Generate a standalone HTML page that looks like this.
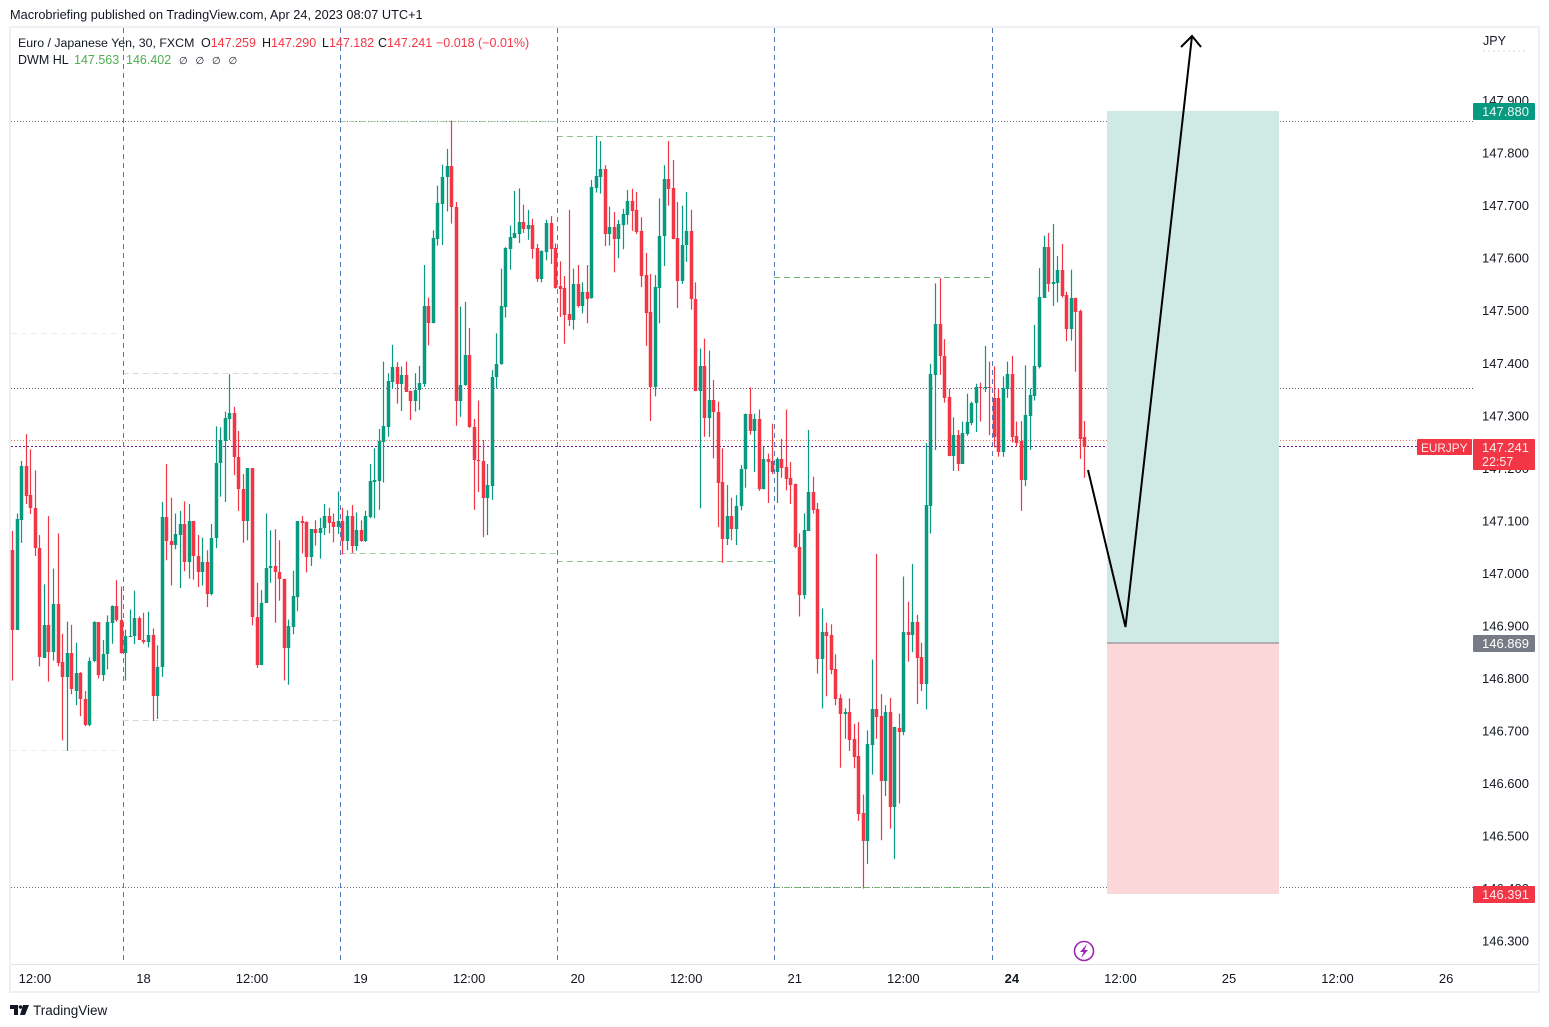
<!DOCTYPE html>
<html lang="en">
<head>
<meta charset="utf-8">
<title>EURJPY 30 chart</title>
<style>
html,body{margin:0;padding:0;background:#fff;width:1549px;height:1027px;overflow:hidden}
svg{display:block;font-family:"Liberation Sans",sans-serif}
text{font-size:12.5px;fill:#131722}
</style>
</head>
<body>
<svg id="chart" width="1549" height="1027" viewBox="0 0 1549 1027" xmlns="http://www.w3.org/2000/svg">
  <rect x="0" y="0" width="1549" height="1027" fill="#ffffff"/>
  <text x="10" y="19" style="font-size:12.75px">Macrobriefing published on TradingView.com, Apr 24, 2023 08:07 UTC+1</text>
  <rect x="10" y="27" width="1529" height="965" fill="none" stroke="#eff0f3" stroke-width="2"/>
  <line x1="11" y1="964.5" x2="1538" y2="964.5" stroke="#e0e3eb" stroke-width="1"/>

  <g id="levels"></g>
  <g id="sessions"></g>
  <g id="candles"></g>
  <g id="verticals"></g>

  <rect x="1107" y="111" width="172" height="532" fill="#cfeae5"/>
  <rect x="1107" y="643" width="172" height="251" fill="#fcd7da"/>
  <line x1="1107" y1="643" x2="1279" y2="643" stroke="#787b86" stroke-width="1"/>
  <polyline points="1088,470 1125.5,627 1192,36" fill="none" stroke="#000000" stroke-width="2"/>
  <polyline points="1181,47 1192,36 1201,47" fill="none" stroke="#000000" stroke-width="2"/>

  <g id="legend">
    <text x="18" y="47" style="font-size:12.35px">Euro / Japanese Yen, 30, FXCM</text>
    <text x="201" y="47">O<tspan fill="#f23645">147.259</tspan></text>
    <text x="262" y="47">H<tspan fill="#f23645">147.290</tspan></text>
    <text x="322" y="47">L<tspan fill="#f23645">147.182</tspan></text>
    <text x="378" y="47">C<tspan fill="#f23645">147.241</tspan></text>
    <text x="436" y="47" style="fill:#f23645">−0.018 (−0.01%)</text>
    <text x="18" y="64">DWM HL</text>
    <text x="74" y="64" style="fill:#4caf50">147.563</text>
    <text x="126" y="64" style="fill:#4caf50">146.402</text>
    <text x="179" y="64" style="font-size:10px;word-spacing:5px">∅ ∅ ∅ ∅</text>
  </g>

  <g id="price-axis">
    <text x="1483" y="45" style="font-size:12.5px">JPY</text>
    <line x1="1483" y1="51" x2="1528" y2="51" stroke="#d8dbe3" stroke-width="1" stroke-dasharray="2 3"/>
  </g>
  <g id="time-axis"></g>

  <g>
    <rect x="1473" y="103" width="62" height="17" rx="1" fill="#089981"/>
    <text x="1529" y="116" text-anchor="end" style="fill:#e8f6f3;font-size:13px">147.880</text>
    <rect x="1417" y="439" width="55" height="16" rx="1" fill="#f23645"/>
    <text x="1421" y="452" style="fill:#fde8ea;font-size:11.8px">EURJPY</text>
    <rect x="1473" y="439" width="62" height="31" rx="1" fill="#f23645"/>
    <text x="1529" y="452" text-anchor="end" style="fill:#fde8ea;font-size:13px">147.241</text>
    <text x="1482" y="466" style="fill:#fde8ea;font-size:12.5px">22:57</text>
    <rect x="1473" y="635" width="62" height="17" rx="1" fill="#787b86"/>
    <text x="1529" y="648" text-anchor="end" style="fill:#ffffff;font-size:13px">146.869</text>
    <rect x="1473" y="886" width="62" height="17" rx="1" fill="#f23645"/>
    <text x="1529" y="899" text-anchor="end" style="fill:#fde8ea;font-size:13px">146.391</text>
  </g>

  <g>
    <circle cx="1084" cy="951" r="9.5" fill="#ffffff" stroke="#9c27b0" stroke-width="1.6"/>
    <path d="M1087 944 L1080 952 L1083.5 952 L1081 958 L1088 950 L1084.5 950 Z" fill="#9c27b0"/>
  </g>

  <g>
    <path d="M10 1005 H18 V1015 H14 V1009 H10 Z M23 1005 H29 L25 1015 H20 Z" fill="#131722"/>
    <circle cx="20.5" cy="1007" r="1.8" fill="#131722"/>
    <text x="33" y="1015" style="font-size:13.5px">TradingView</text>
  </g>
</svg>

<script>
const opens = [
147.044,146.893,147.102,147.204,147.149,147.125,147.049,146.839,146.901,146.850,
146.941,146.831,146.803,146.849,146.777,146.810,146.760,146.711,146.833,146.907,
146.806,146.847,146.906,146.937,146.912,146.849,146.880,146.881,146.915,146.874,
146.869,146.883,146.767,146.821,147.107,147.062,147.054,147.073,147.094,147.022,
147.099,147.033,147.003,147.021,146.960,147.068,147.211,147.252,147.294,147.306,
147.222,147.160,147.100,147.200,146.917,146.825,146.944,147.010,147.014,147.002,
146.990,146.858,146.898,146.955,147.099,147.097,147.031,147.084,147.076,147.087,
147.109,147.097,147.088,147.099,147.062,147.109,147.053,147.082,147.061,147.108,
147.174,147.176,147.251,147.279,147.365,147.393,147.361,147.378,147.347,147.329,
147.350,147.361,147.509,147.477,147.637,147.704,147.754,147.776,147.698,147.329,
147.358,147.416,147.278,147.216,147.214,147.144,147.167,147.373,147.398,147.508,
147.618,147.639,147.647,147.668,147.656,147.663,147.619,147.560,147.612,147.667,
147.620,147.547,147.544,147.493,147.482,147.551,147.509,147.535,147.525,147.734,
147.755,147.770,147.646,147.659,147.637,147.663,147.682,147.709,147.692,147.652,
147.568,147.497,147.355,147.544,147.642,147.750,147.734,147.638,147.557,147.625,
147.652,147.523,147.347,147.394,147.296,147.330,147.308,147.174,147.066,147.109,
147.085,147.129,147.198,147.304,147.271,147.293,147.161,147.217,147.213,147.193,
147.217,147.202,147.181,147.170,147.051,146.959,147.081,147.155,147.122,146.837,
146.888,146.882,146.817,146.762,146.733,146.736,146.684,146.652,146.543,146.490,
146.673,146.741,146.728,146.605,146.737,146.555,146.706,146.698,146.888,146.883,
146.907,146.841,146.789,147.128,147.378,147.475,147.414,147.336,147.223,147.263,
147.208,147.265,147.287,147.324,147.354,147.352,147.354,147.334,147.334,147.232,
147.351,147.380,147.262,147.252,147.178,147.300,147.338,147.392,147.524,147.622,
147.550,147.552,147.578,147.530,147.466,147.524,147.500,147.259];
const highs = [
147.081,147.114,147.214,147.265,147.236,147.196,147.073,146.979,147.109,147.009,
147.076,146.885,146.908,146.902,146.868,146.812,146.776,146.840,146.909,146.907,
146.873,146.920,146.939,146.987,146.975,146.893,146.931,146.967,146.918,146.925,
146.927,146.895,146.863,147.136,147.208,147.144,147.114,147.119,147.137,147.132,
147.100,147.073,147.068,147.044,147.094,147.280,147.278,147.308,147.379,147.317,
147.271,147.189,147.200,147.200,146.982,146.968,147.114,147.082,147.084,147.063,
146.990,146.912,147.005,147.099,147.109,147.099,147.084,147.101,147.106,147.132,
147.125,147.114,147.156,147.125,147.120,147.130,147.116,147.101,147.119,147.208,
147.238,147.275,147.403,147.381,147.435,147.402,147.394,147.403,147.348,147.381,
147.395,147.587,147.525,147.653,147.738,147.778,147.808,147.862,147.707,147.508,
147.517,147.467,147.294,147.329,147.254,147.208,147.387,147.457,147.580,147.621,
147.662,147.728,147.733,147.702,147.692,147.675,147.627,147.615,147.673,147.680,
147.628,147.594,147.566,147.692,147.580,147.587,147.554,147.587,147.749,147.833,
147.823,147.777,147.698,147.688,147.673,147.694,147.730,147.732,147.726,147.678,
147.610,147.570,147.568,147.714,147.777,147.823,147.787,147.707,147.700,147.726,
147.692,147.554,147.428,147.447,147.424,147.368,147.327,147.238,147.168,147.144,
147.149,147.206,147.304,147.354,147.304,147.312,147.241,147.228,147.285,147.221,
147.256,147.312,147.212,147.171,147.076,147.114,147.273,147.184,147.134,146.933,
146.906,146.903,146.846,146.770,146.743,146.762,146.713,146.717,146.579,146.701,
146.836,147.037,146.770,146.749,146.763,146.708,146.733,146.994,146.946,147.018,
146.921,146.868,147.248,147.399,147.552,147.562,147.446,147.352,147.297,147.273,
147.289,147.342,147.327,147.361,147.363,147.433,147.403,147.394,147.352,147.375,
147.403,147.414,147.289,147.290,147.396,147.352,147.473,147.581,147.643,147.648,
147.665,147.604,147.627,147.536,147.578,147.525,147.502,147.290];
const lows = [
146.796,146.893,147.058,147.132,147.113,147.033,146.823,146.839,146.794,146.834,
146.823,146.682,146.662,146.770,146.749,146.728,146.709,146.709,146.831,146.800,
146.795,146.817,146.866,146.908,146.847,146.796,146.879,146.865,146.873,146.866,
146.859,146.719,146.723,146.803,147.025,146.977,147.046,146.972,147.004,146.990,
146.988,146.974,146.977,146.936,146.958,147.048,147.146,147.136,147.254,147.187,
147.119,147.058,147.063,146.901,146.820,146.825,146.944,146.982,146.906,146.948,
146.796,146.788,146.884,146.928,147.038,147.002,147.014,147.053,147.028,147.073,
147.076,147.059,147.075,147.036,147.044,147.039,147.043,147.060,147.060,147.105,
147.105,147.121,147.173,147.260,147.352,147.323,147.309,147.345,147.292,147.308,
147.311,147.355,147.434,147.476,147.624,147.625,147.689,147.666,147.281,147.298,
147.357,147.277,147.121,147.155,147.069,147.073,147.140,147.352,147.397,147.487,
147.578,147.638,147.629,147.648,147.635,147.599,147.555,147.554,147.596,147.589,
147.542,147.488,147.437,147.471,147.464,147.506,147.495,147.476,147.523,147.725,
147.723,147.623,147.624,147.573,147.600,147.617,147.664,147.652,147.646,147.545,
147.433,147.290,147.337,147.476,147.585,147.700,147.636,147.505,147.551,147.593,
147.502,147.347,147.124,147.260,147.260,147.219,147.088,147.020,147.054,147.063,
147.054,147.120,147.163,147.264,147.193,147.157,147.160,147.134,147.189,147.134,
147.182,147.158,147.132,147.048,146.918,146.951,147.081,147.114,146.809,146.743,
146.766,146.808,146.749,146.630,146.685,146.662,146.629,146.529,146.400,146.447,
146.617,146.685,146.492,146.576,146.514,146.456,146.562,146.692,146.832,146.850,
146.751,146.776,146.741,147.076,147.235,147.378,147.325,147.223,147.195,147.195,
147.208,147.262,147.282,147.269,147.289,147.345,147.263,147.240,147.222,147.222,
147.334,147.249,147.241,147.119,147.166,147.235,147.329,147.390,147.524,147.536,
147.509,147.516,147.525,147.442,147.443,147.384,147.218,147.182];
const closes = [
146.893,147.103,147.204,147.148,147.125,147.048,146.840,146.901,146.850,146.941,
146.829,146.803,146.849,146.779,146.810,146.760,146.711,146.834,146.907,146.806,
146.847,146.907,146.937,146.911,146.849,146.881,146.881,146.915,146.874,146.869,
146.883,146.767,146.821,147.107,147.062,147.054,147.075,147.094,147.022,147.099,
147.033,147.003,147.021,146.960,147.068,147.211,147.254,147.295,147.306,147.222,
147.160,147.100,147.200,146.917,146.825,146.944,147.011,147.014,147.002,146.990,
146.858,146.899,146.956,147.099,147.096,147.031,147.084,147.076,147.087,147.109,
147.096,147.088,147.099,147.062,147.109,147.053,147.082,147.061,147.109,147.176,
147.178,147.252,147.281,147.366,147.393,147.361,147.378,147.346,147.329,147.350,
147.362,147.509,147.477,147.638,147.705,147.755,147.776,147.698,147.329,147.358,
147.416,147.278,147.215,147.213,147.144,147.168,147.374,147.399,147.509,147.619,
147.641,147.648,147.668,147.656,147.663,147.618,147.561,147.614,147.667,147.617,
147.544,147.541,147.492,147.483,147.551,147.509,147.535,147.523,147.735,147.756,
147.770,147.647,147.659,147.636,147.665,147.684,147.709,147.690,147.649,147.566,
147.496,147.355,147.545,147.643,147.750,147.732,147.636,147.557,147.626,147.652,
147.522,147.347,147.394,147.296,147.330,147.307,147.172,147.066,147.109,147.085,
147.129,147.198,147.304,147.271,147.293,147.160,147.217,147.212,147.193,147.217,
147.200,147.180,147.169,147.050,146.959,147.082,147.155,147.120,146.837,146.888,
146.881,146.816,146.760,146.732,146.736,146.682,146.650,146.542,146.490,146.675,
146.741,146.727,146.605,146.737,146.555,146.708,146.698,146.888,146.882,146.907,
146.839,146.789,147.130,147.380,147.475,147.413,147.333,147.223,147.263,147.208,
147.267,147.288,147.325,147.354,147.352,147.354,147.352,147.260,147.232,147.352,
147.380,147.260,147.249,147.178,147.301,147.340,147.395,147.526,147.622,147.550,
147.554,147.578,147.528,147.466,147.524,147.498,147.256,147.241];

const priceTicks = ["147.900","147.800","147.700","147.600","147.500","147.400","147.300","147.200","147.100","147.000","146.900","146.800","146.700","146.600","146.500","146.400","146.300"];
const timeLabels = ["12:00","18","12:00","19","12:00","20","12:00","21","12:00","24","12:00","25","12:00","26"];
const timeBars = [5,29,53,77,101,125,149,173,197,221,245,269,293,317];
const sessionBounds = [-0.3,24.4,72.4,120.4,168.4,216.6];
const sessionHighs = [147.456,147.381,147.860,147.832,147.563];
const sessionLows = [146.662,146.719,147.037,147.022,146.402];
const levelPrices = [147.860,147.351,147.252,147.241,146.402];

const svgNS = "http://www.w3.org/2000/svg";
const xOf = bar => 12.3 + bar * 4.523;
const yOf = price => 100.6 + (147.9 - price) * 525.3;
const GREEN = "#089981";
const RED = "#f23645";
const levelColors = ["#6b6f7c","#5c5566","#e8705f","#6a1b9a","#6b6f7c"];
const levelDash = ["1 2","1 2","1 2","2 2","1 2"];
const sessionColors = ["#eceeec","#d3dcd3","#a8cca8","#8fc28f","#74b574"];

function make(tag, attrs) {
  const el = document.createElementNS(svgNS, tag);
  for (const k in attrs) el.setAttribute(k, attrs[k]);
  return el;
}

const levelsG = document.getElementById("levels");
levelPrices.forEach((p, i) => {
  const y = Math.floor(yOf(p)) + 0.5;
  const ln = make("line", {x1: 11, x2: i === 2 || i === 3 ? 1417 : 1473, y1: y, y2: y, stroke: levelColors[i], "stroke-width": 1, "stroke-dasharray": levelDash[i]});
  
  
  levelsG.appendChild(ln);
});

const sessionsG = document.getElementById("sessions");
sessionHighs.forEach((p, i) => {
  const y = Math.floor(yOf(p)) + 0.5;
  const ln = make("line", {x1: Math.max(11, xOf(sessionBounds[i])), x2: xOf(sessionBounds[i + 1]), y1: y, y2: y, stroke: sessionColors[i], "stroke-width": 1, "stroke-dasharray": "6 4"});
  
  
  sessionsG.appendChild(ln);
});
sessionLows.forEach((p, i) => {
  const y = Math.floor(yOf(p)) + 0.5;
  const ln = make("line", {x1: Math.max(11, xOf(sessionBounds[i])), x2: xOf(sessionBounds[i + 1]), y1: y, y2: y, stroke: sessionColors[i], "stroke-width": 1, "stroke-dasharray": "6 4"});
  
  
  sessionsG.appendChild(ln);
});

const candlesG = document.getElementById("candles");
opens.forEach((o, i) => {
  const c = closes[i];
  const color = c >= o ? GREEN : RED;
  const cx = Math.round(xOf(i));
  const g = make("g", {});
  
  
  const wickTop = yOf(highs[i]);
  const wickBottom = yOf(lows[i]);
  const wick = make("rect", {x: cx - 0.1, y: wickTop, width: 1.2, height: Math.max(1, wickBottom - wickTop), fill: color});
  
  
  const bodyTop = Math.round(yOf(Math.max(o, c)));
  const bodyBottom = Math.round(yOf(Math.min(o, c)));
  const body = make("rect", {x: cx - 1.25, y: bodyTop, width: 3.5, height: Math.max(1, bodyBottom - bodyTop), fill: color});
  
  
  g.appendChild(wick);
  g.appendChild(body);
  candlesG.appendChild(g);
});

const vertG = document.getElementById("verticals");
sessionBounds.slice(1).forEach(b => {
  const x = Math.round(xOf(b)) + 0.5;
  const ln = make("line", {x1: x, x2: x, y1: 28, y2: 964, stroke: "#4f78bd", "stroke-width": 1, "stroke-dasharray": "5 4"});
  
  
  vertG.appendChild(ln);
});

const priceG = document.getElementById("price-axis");
priceTicks.forEach(t => {
  const tx = make("text", {x: 1529, y: yOf(parseFloat(t)) + 4.5, "text-anchor": "end", style: "font-size:13px"});
  
  
  tx.textContent = t;
  priceG.appendChild(tx);
});

const timeG = document.getElementById("time-axis");
timeLabels.forEach((t, i) => {
  const tx = make("text", {x: xOf(timeBars[i]), y: 983, "text-anchor": "middle", style: "font-size:13px" + (t === "24" ? ";font-weight:bold" : "")});
  
  
  tx.textContent = t;
  timeG.appendChild(tx);
});
</script>
</body>
</html>
